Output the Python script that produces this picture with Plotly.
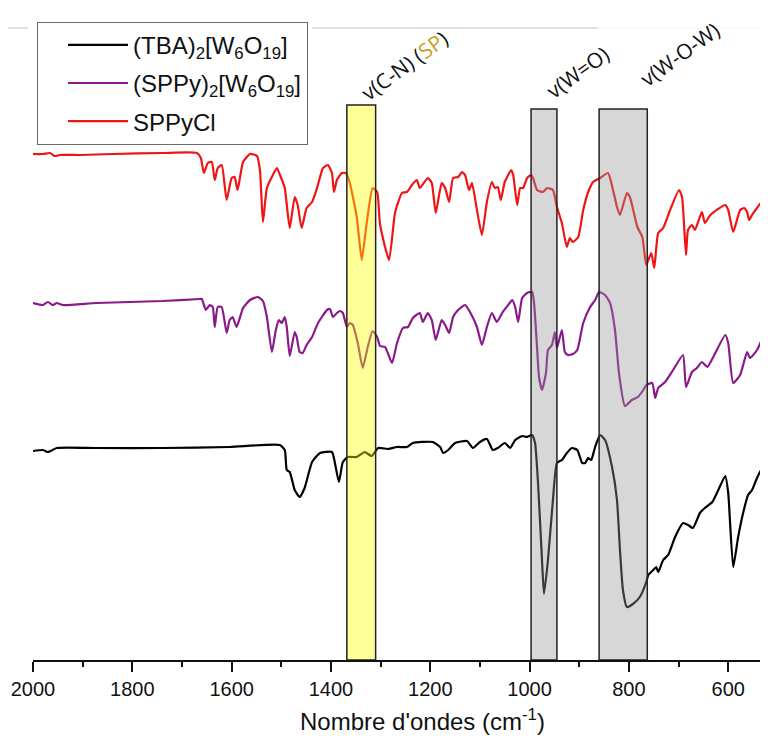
import plotly.graph_objects as go

# ---------------- data ----------------
# wavenumber (cm-1) and offset transmittance (arbitrary units)
red_wn = [2000, 1980, 1966, 1956, 1946, 1906, 1839, 1739, 1670, 1662, 1656, 1648, 1640, 1634, 1628, 1620,
          1610, 1600, 1594, 1588, 1577, 1563, 1549, 1543, 1537, 1529, 1517, 1509, 1501, 1493, 1483, 1473,
          1467, 1459, 1449, 1438, 1428, 1416, 1406, 1398, 1394, 1388, 1378, 1370, 1362, 1348, 1338, 1328,
          1316, 1307, 1301, 1283, 1271, 1257, 1247, 1237, 1227, 1221, 1205, 1197, 1189, 1177, 1170, 1162,
          1154, 1144, 1136, 1130, 1122, 1116, 1106, 1096, 1086, 1076, 1070, 1064, 1058, 1050, 1037, 1033,
          1025, 1019, 1013, 1005, 997, 993, 985, 973, 965, 953, 945, 935, 925, 919, 913, 902, 892, 882,
          872, 858, 842, 832, 824, 818, 804, 798, 783, 773, 765, 755, 749, 741, 731, 717, 699, 693, 685,
          681, 673, 667, 653, 647, 636, 606, 600, 590, 576, 568, 562, 558, 552, 542, 532, 520]
red_t = [101.2, 101.2, 101.4, 100.8, 101.0, 101.0, 101.2, 101.4, 101.4, 100.4, 97.4, 99.4, 99.6, 96.0, 98.4, 99.0,
         92.0, 96.4, 96.6, 94.0, 99.6, 101.2, 100.8, 98.0, 87.6, 94.4, 97.0, 98.4, 96.6, 94.4, 86.4, 92.6,
         91.0, 86.4, 90.4, 91.6, 94.4, 98.4, 99.0, 97.4, 93.6, 96.0, 97.4, 97.4, 95.4, 88.6, 80.0, 87.4,
         94.4, 93.6, 87.0, 80.0, 89.4, 93.4, 93.6, 95.0, 96.0, 94.4, 96.4, 95.4, 89.4, 95.4, 94.4, 91.6,
         96.4, 96.6, 97.6, 97.0, 94.0, 95.4, 90.0, 85.0, 91.6, 95.6, 94.4, 94.6, 92.0, 95.6, 98.0, 97.0,
         91.0, 94.4, 94.4, 96.4, 97.0, 96.4, 94.0, 93.6, 94.4, 94.0, 90.6, 87.4, 82.6, 84.4, 83.6, 84.6, 90.0, 93.6,
         95.6, 96.4, 97.4, 94.0, 90.6, 89.0, 93.4, 92.6, 86.6, 84.6, 79.0, 81.4, 78.4, 85.4, 86.4, 90.0, 94.0, 92.6, 81.0,
         86.0, 87.0, 86.0, 89.6, 87.4, 89.0, 91.0, 90.0, 85.6, 90.0, 90.4, 89.6, 88.0, 89.0, 90.4, 91.6, 91.0]

purple_wn = [2000, 1980, 1970, 1960, 1952, 1940, 1872, 1739, 1664, 1660, 1652, 1644, 1638, 1634, 1628, 1620,
             1610, 1604, 1598, 1590, 1577, 1563, 1547, 1537, 1529, 1519, 1511, 1505, 1499, 1493, 1489, 1483,
             1473, 1469, 1463, 1457, 1449, 1438, 1426, 1408, 1402, 1396, 1388, 1382, 1376, 1368, 1362, 1356,
             1346, 1336, 1326, 1316, 1307, 1301, 1291, 1277, 1267, 1255, 1245, 1235, 1221, 1215, 1205, 1197,
             1189, 1177, 1170, 1162, 1154, 1144, 1130, 1120, 1106, 1096, 1086, 1076, 1066, 1054, 1043, 1035,
             1029, 1023, 1015, 1005, 995, 991, 985, 981, 975, 967, 963, 955, 949, 945, 935, 929, 923, 913,
             904, 892, 878, 868, 860, 848, 838, 828, 820, 808, 794, 782, 771, 765, 753, 747, 741, 727, 711,
             691, 685, 673, 663, 653, 642, 630, 606, 600, 590, 576, 562, 556, 542, 530, 520]
purple_t = [71.4, 71.0, 71.6, 71.0, 71.4, 71.0, 71.4, 71.8, 72.2, 72.2, 70.0, 71.0, 70.6, 66.6, 70.6, 70.6,
            65.4, 68.0, 68.6, 66.6, 70.4, 72.0, 72.6, 71.8, 68.6, 61.6, 66.0, 68.0, 67.4, 68.6, 66.6, 60.8,
            65.6, 64.6, 61.6, 61.4, 63.0, 64.6, 67.4, 70.0, 70.2, 68.6, 69.4, 69.8, 69.4, 66.6, 67.4, 67.0,
            63.4, 58.4, 62.6, 65.8, 64.6, 62.8, 62.6, 59.4, 63.4, 66.4, 66.6, 68.4, 69.4, 67.6, 69.4, 68.0,
            64.0, 68.0, 67.0, 65.4, 68.6, 70.0, 71.0, 69.6, 66.6, 63.0, 66.6, 69.4, 67.6, 69.6, 71.0, 72.0,
            70.6, 67.6, 72.4, 73.4, 73.6, 71.4, 62.6, 56.6, 54.0, 57.4, 62.0, 63.0, 65.6, 62.4, 66.0, 61.6, 61.0, 61.2,
            62.0, 67.4, 70.6, 72.0, 73.6, 73.0, 71.4, 66.0, 57.4, 50.8, 52.0, 52.6, 54.0, 55.0, 55.4, 52.4, 54.4, 55.6, 58.0,
            61.0, 54.6, 57.6, 58.4, 59.6, 58.6, 60.6, 65.0, 63.4, 55.4, 57.0, 61.6, 60.4, 62.0, 64.6, 66.4]

black_wn = [2000, 1980, 1970, 1952, 1872, 1739, 1604, 1503, 1493, 1489, 1483, 1473, 1463, 1453, 1438, 1422,
            1398, 1392, 1384, 1376, 1366, 1348, 1332, 1318, 1305, 1285, 1267, 1247, 1235, 1195, 1180, 1174,
            1164, 1150, 1126, 1114, 1100, 1086, 1074, 1064, 1050, 1039, 1029, 1015, 1005, 995, 989, 983,
            975, 971, 963, 953, 945, 935, 925, 915, 904, 894, 888, 882, 876, 868, 858, 848, 834, 824, 818,
            812, 804, 792, 778, 765, 761, 751, 745, 741, 731, 721, 707, 691, 681, 671, 657, 647, 632, 620,
            606, 600, 590, 580, 570, 560, 552, 542, 531, 529, 520]
black_t = [41.8, 42.0, 41.6, 42.4, 42.4, 42.4, 42.6, 43.0, 42.0, 38.0, 37.6, 34.0, 32.6, 34.4, 39.6, 41.4,
           41.6, 39.4, 35.6, 39.6, 40.6, 40.6, 41.6, 40.8, 42.4, 42.2, 42.6, 42.6, 43.4, 43.6, 42.6, 41.4,
           42.0, 43.4, 43.8, 42.4, 43.6, 44.2, 42.0, 42.4, 43.4, 42.4, 44.0, 44.8, 44.6, 45.0, 43.4, 35.4,
           20.0, 13.2, 20.0, 32.0, 39.4, 40.0, 41.4, 42.4, 42.0, 39.4, 39.4, 40.4, 40.0, 42.6, 45.0, 44.0, 38.6, 32.0, 22.0,
           14.0, 10.6, 11.2, 12.6, 15.6, 17.0, 18.0, 18.6, 17.6, 20.0, 21.0, 24.6, 27.4, 27.0, 26.4, 29.4, 30.4, 31.6, 34.0,
           36.8, 33.4, 18.6, 24.6, 29.4, 33.0, 34.0, 36.4, 38.4, 4.4, 4.4]

series_names = ["(TBA)<sub>2</sub>[W<sub>6</sub>O<sub>19</sub>]",
                "(SPPy)<sub>2</sub>[W<sub>6</sub>O<sub>19</sub>]",
                "SPPyCl"]
series_colors = ["#000000", "#8A1A8A", "#F01414"]

# highlighted bands: (high wavenumber, low wavenumber, top)
band_edges = [(1368, 1310, 111.0), (997, 945, 110.2), (860, 763, 110.2)]
band_fills = ["rgba(255,255,0,0.40)", "rgba(150,150,150,0.38)", "rgba(150,150,150,0.38)"]
band_labels = ["v(C-N) (<span style='color:#C8A020'>SP</span>)", "v(W=O)", "v(W-O-W)"]
label_pos = [(1251, 119.0), (903, 117.7), (697, 121.2)]

tick_vals = [2000, 1800, 1600, 1400, 1200, 1000, 800, 600]
x_title = "Nombre d'ondes (cm<sup>-1</sup>)"

# ---------------- figure ----------------
fig = go.Figure()
for i, (wn, t, name, col) in enumerate(zip([black_wn, purple_wn, red_wn], [black_t, purple_t, red_t],
                                           series_names, series_colors)):
    fig.add_trace(go.Scatter(x=wn, y=t, mode="lines", name=name, legendgroup="g%d" % i,
                             line=dict(color=col, width=2.2, shape="spline", smoothing=0.5)))

shapes = []
for (hi, lo, top), fill in zip(band_edges, band_fills):
    shapes.append(dict(type="rect", xref="x", yref="y", x0=hi, x1=lo, y0=0, y1=top,
                       fillcolor=fill, line=dict(color="#222222", width=1.5), layer="above"))
# light separator line of the original page
shapes.append(dict(type="line", xref="paper", yref="paper", x0=-0.0344, x1=-0.0069, y0=0.9693, y1=0.9693,
                   line=dict(color="#E2E2E2", width=2), layer="below"))
shapes.append(dict(type="line", xref="paper", yref="paper", x0=0.3838, x1=0.7772, y0=0.9693, y1=0.9693,
                   line=dict(color="#E2E2E2", width=2), layer="below"))
shapes.append(dict(type="line", xref="paper", yref="paper", x0=0.7772, x1=1.0, y0=0.9693, y1=0.9693,
                   line=dict(color="#F4F4F4", width=1), layer="below"))

annotations = []
for txt, (ax, ay) in zip(band_labels, label_pos):
    annotations.append(dict(x=ax, y=ay, xref="x", yref="y", text=txt, showarrow=False,
                            textangle=-36, font=dict(family="Open Sans", size=21, color="#111111")))
# x-axis title
annotations.append(dict(x=0.5358, y=-0.1166, xref="paper", yref="paper", text=x_title,
                        showarrow=False, xanchor="center", yanchor="bottom", borderpad=0,
                        font=dict(family="Liberation Sans", size=24, color="#111111")))

fig.update_layout(
    width=752, height=728,
    margin=dict(l=25, r=0, t=0, b=76),
    paper_bgcolor="white", plot_bgcolor="white",
    shapes=shapes, annotations=annotations,
    showlegend=True,
    legend=dict(x=0.0055, y=0.979, xanchor="left", yanchor="top",
                bgcolor="white", bordercolor="#6A6A6A", borderwidth=1,
                font=dict(family="Liberation Sans", size=24, color="#111111"),
                itemwidth=60, indentation=25, tracegroupgap=4),
    xaxis=dict(range=[2000, 536], showgrid=False, zeroline=False,
               showline=True, linecolor="#111111", linewidth=1.5,
               ticks="outside", ticklen=10, tickwidth=1.5, tickcolor="#111111",
               tickvals=tick_vals, ticktext=[str(v) for v in tick_vals],
               minor=dict(dtick=100, ticks="outside", ticklen=5, tickwidth=1.5, tickcolor="#111111"),
               tickfont=dict(family="Liberation Sans", size=20, color="#111111")),
    yaxis=dict(range=[0, 130.4], visible=False, showgrid=False, zeroline=False),
)

fig.write_html("out.html")
